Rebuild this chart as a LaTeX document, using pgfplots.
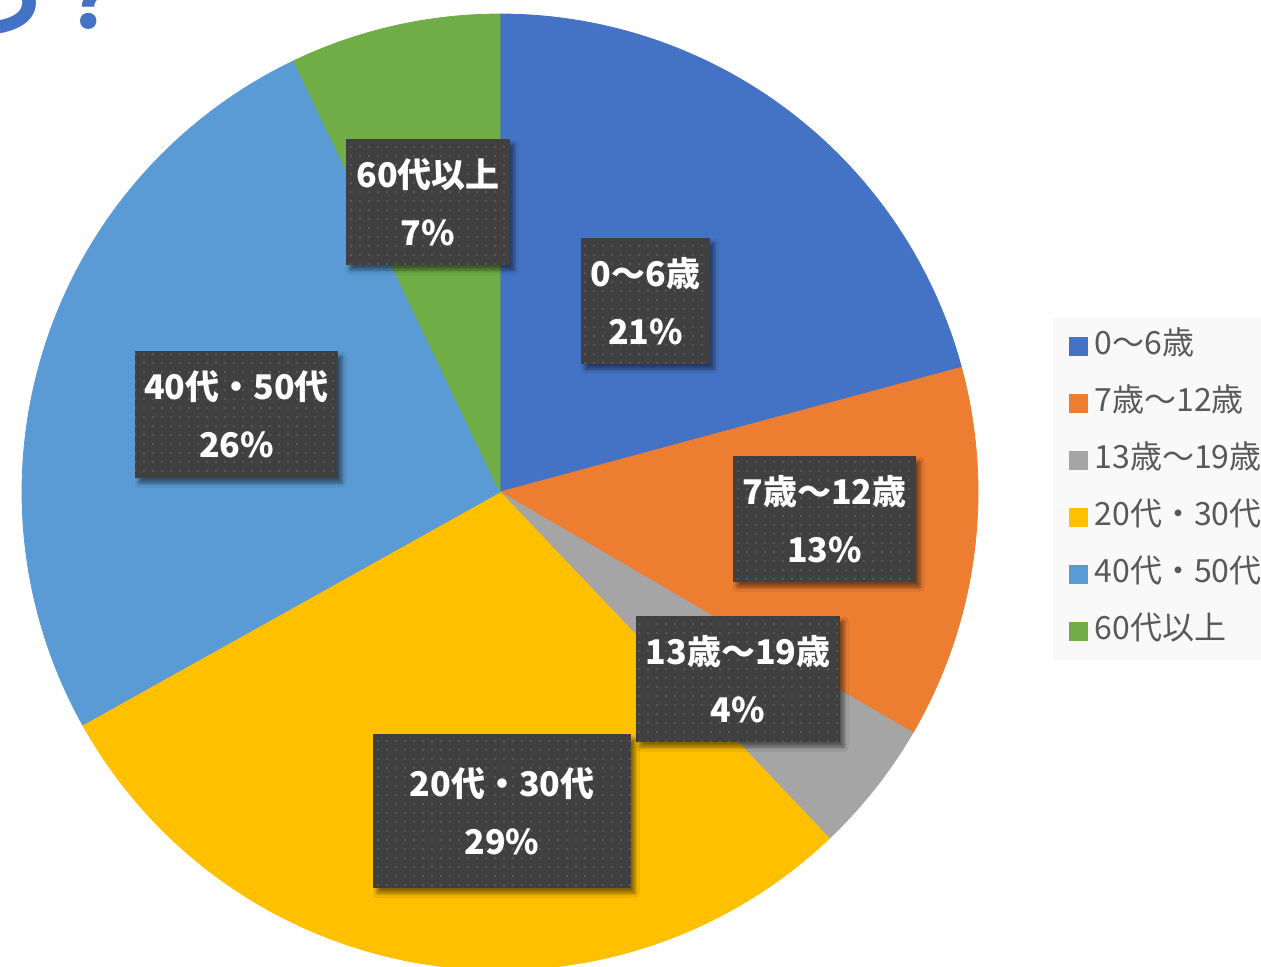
\documentclass[border=0pt]{standalone}
\usepackage{fontspec}
\usepackage{pgfplots}
\pgfplotsset{compat=1.18}
\usetikzlibrary{patterns.meta,shadows.blur}
\newfontfamily\jp{Noto Sans CJK JP}
\definecolor{pblue}{HTML}{4472C4}
\definecolor{porange}{HTML}{ED7D31}
\definecolor{pgray}{HTML}{A5A5A5}
\definecolor{pyellow}{HTML}{FFC000}
\definecolor{plblue}{HTML}{5B9BD5}
\definecolor{pgreen}{HTML}{70AD47}
\definecolor{legbg}{HTML}{F9F9F9}
\definecolor{legtext}{HTML}{595959}
\definecolor{lblbg}{HTML}{404040}
\definecolor{lbldot}{HTML}{585858}
\definecolor{titleblue}{HTML}{4472C4}
\def\piecum{0}
\newcommand\pieslice[3]{%
  \pgfmathsetmacro\pa{3.6*\piecum}%
  \pgfmathsetmacro\pb{3.6*(\piecum+#1)}%
  \pgfmathsetmacro\pc{\piecum+#1}\xdef\piecum{\pc}%
  \edef\doslice{\noexpand\addplot[fill=#2, draw=#2, line width=0.4pt, domain=\pa:\pb, samples=120, variable=\noexpand\t] ({500+478*sin(\noexpand\t)}, {492-478*cos(\noexpand\t)}) -- (axis cs:500,492) -- cycle;}%
  \doslice
  \addlegendentry{#3}%
}
\tikzset{lbl/.style={blur shadow={shadow xshift=2pt, shadow yshift=-2.5pt, shadow blur radius=2pt, shadow opacity=50}, preaction={fill=lblbg}, pattern={Dots[distance=4.5pt, radius=0.65pt]}, pattern color=lbldot, text=white, font=\jp\bfseries\fontsize{17}{29}\selectfont, align=center, inner sep=0pt}}
\begin{document}
\begin{tikzpicture}
\begin{axis}[name=ax, x=0.5pt, y=0.5pt, xmin=0, xmax=1261, ymin=0, ymax=966, y dir=reverse, hide axis, scale only axis,
  legend image code/.code={\fill[#1, draw=none] (0pt,-4.75pt) rectangle (9.5pt,4.75pt);},
  legend style={at={(axis description cs:0.8351,0.6708)}, anchor=north west, fill=legbg, draw=none, inner xsep=8pt, inner ysep=0pt, row sep=0pt, font=\jp\fontsize{16}{18}\selectfont, text=legtext, nodes={inner xsep=3pt, inner ysep=0pt, minimum height=28.5pt, text height=12.5pt, text depth=4.5pt, anchor=west}},
  legend cell align=left]
\pieslice{20.8}{pblue}{0～6歳}
\pieslice{12.6}{porange}{7歳～12歳}
\pieslice{4.5}{pgray}{13歳～19歳}
\pieslice{29.0}{pyellow}{20代・30代}
\pieslice{26.0}{plblue}{40代・50代}
\pieslice{7.1}{pgreen}{60代以上}
\node[lbl, minimum width=64.5pt, minimum height=63pt] at (axis cs:645.5,301) {0～6歳\\21\%};
\node[lbl, minimum width=91.5pt, minimum height=63pt] at (axis cs:824.5,519) {7歳～12歳\\13\%};
\node[lbl, minimum width=102pt, minimum height=63pt] at (axis cs:738,679) {13歳～19歳\\4\%};
\node[lbl, minimum width=129pt, minimum height=77pt] at (axis cs:502,811) {20代・30代\\29\%};
\node[lbl, minimum width=101.5pt, minimum height=63.5pt] at (axis cs:236.5,414.5) {40代・50代\\26\%};
\node[lbl, minimum width=82pt, minimum height=63pt] at (axis cs:428,202) {60代以上\\7\%};
\node[anchor=base east, inner sep=0pt, text=titleblue, font=\jp\bfseries\fontsize{40}{48}\selectfont] at (axis cs:130,28) {しょう？};
\end{axis}
\pgfresetboundingbox
\useasboundingbox (ax.south west) rectangle (ax.north east);
\end{tikzpicture}
\end{document}
